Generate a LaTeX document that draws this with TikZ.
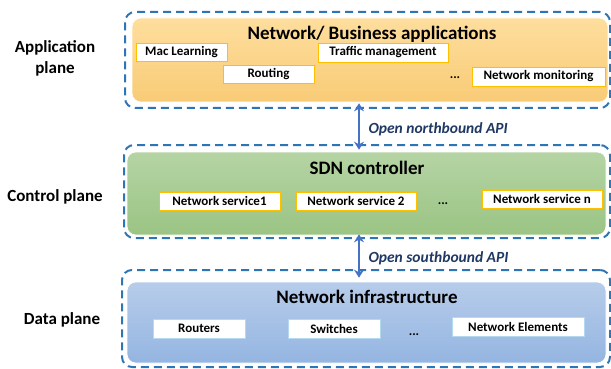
\documentclass[tikz,border=0pt]{standalone}
\usepackage{fontspec}
\setmainfont{Carlito}
\usetikzlibrary{arrows.meta}
\definecolor{dashblue}{HTML}{2E75B6}
\definecolor{apiblue}{HTML}{4472C4}
\definecolor{apitext}{HTML}{203864}
\definecolor{appedge}{HTML}{FFC000}
\definecolor{infedge}{HTML}{B4D8F0}
\tikzset{
  plane/.style={draw=dashblue, line width=2pt, dash pattern=on 8pt off 5pt, rounded corners=10pt},
  layer/.style={draw=white, line width=0.6pt, rounded corners=9pt},
  title/.style={font=\bfseries\fontsize{19}{22}\selectfont},
  side/.style={font=\bfseries\fontsize{17}{21}\selectfont, align=center},
  item/.style={fill=white, line width=0.9pt, inner sep=0pt, font=\bfseries\fontsize{13}{15}\selectfont},
  dots/.style={anchor=base, font=\bfseries\fontsize{13}{15}\selectfont},
  api/.style={draw=apiblue, line width=2.8pt, {Stealth[length=8pt,width=10pt]}-{Stealth[length=8pt,width=10pt]}},
  apilabel/.style={anchor=west, text=apitext, font=\bfseries\itshape\fontsize{15.5}{18}\selectfont},
}
\begin{document}
\begin{tikzpicture}[x=1pt, y=-1pt]
\useasboundingbox (0,0) rectangle (611,369);
\node [plane, minimum width=485pt, minimum height=96pt] (appplane) at (367.5,60) {};
\node [plane, minimum width=486pt, minimum height=93pt] (ctrlplane) at (367,191.5) {};
\node [plane, minimum width=488pt, minimum height=97pt] (dataplane) at (366,318.5) {};
\node [layer, top color={rgb,255:red,254;green,222;blue,158}, bottom color={rgb,255:red,248;green,203;blue,118}, minimum width=476pt, minimum height=84pt] (app) at (370,60) {};
\node [layer, top color={rgb,255:red,181;green,212;blue,164}, bottom color={rgb,255:red,155;green,196;blue,132}, minimum width=479pt, minimum height=83pt] (ctrl) at (366.5,193.5) {};
\node [layer, top color={rgb,255:red,183;green,204;blue,234}, bottom color={rgb,255:red,148;green,181;blue,225}, minimum width=479pt, minimum height=81pt] (infra) at (366.5,322.5) {};
\node [side] (applabel) at (55,58) {Application\\plane};
\node [side] (ctrllabel) at (55,197) {Control plane};
\node [side] (datalabel) at (62,320) {Data plane};
\node [title] (apptitle) at (372,34) {Network/ Business applications};
\node [title] (ctrltitle) at (367,168) {SDN controller};
\node [title] (infratitle) at (367,297) {Network infrastructure};
\node [item, draw=appedge, minimum width=91pt, minimum height=18pt] (mac) at (181.5,52) {Mac Learning};
\node [item, draw=appedge, minimum width=130pt, minimum height=19pt] (traffic) at (383,52.5) {Traffic management};
\node [item, draw=appedge, minimum width=91pt, minimum height=18pt] (routing) at (268.5,74) {Routing};
\node [item, draw=appedge, minimum width=133pt, minimum height=19pt] (monitor) at (538.5,76.5) {Network monitoring};
\node [dots] (appdots) at (455,79) {...};
\node [item, draw=appedge, minimum width=121pt, minimum height=18pt] (svcone) at (219.5,201) {Network service1};
\node [item, draw=appedge, minimum width=120pt, minimum height=18pt] (svctwo) at (356,201) {Network service 2};
\node [item, draw=appedge, minimum width=120pt, minimum height=18pt] (svcn) at (542,199) {Network service n};
\node [dots] (ctrldots) at (443,204) {...};
\node [item, draw=infedge, minimum width=92pt, minimum height=19pt] (routers) at (199,328.5) {Routers};
\node [item, draw=infedge, minimum width=92pt, minimum height=19pt] (switches) at (334,328.5) {Switches};
\node [item, draw=infedge, minimum width=132pt, minimum height=19pt] (elements) at (518,326.5) {Network Elements};
\node [dots] (infradots) at (414,335) {...};
\coordinate (apix) at (359,0);
\draw [api] ([yshift=-1pt]app.south -| apix) -- ([yshift=2pt]ctrl.north -| apix);
\draw [api] ([yshift=1pt]ctrl.south -| apix) -- ([yshift=4pt]infra.north -| apix);
\node [apilabel] (northapi) at (365,129) {Open northbound API};
\node [apilabel] (southapi) at (365,258) {Open southbound API};
\end{tikzpicture}
\end{document}
